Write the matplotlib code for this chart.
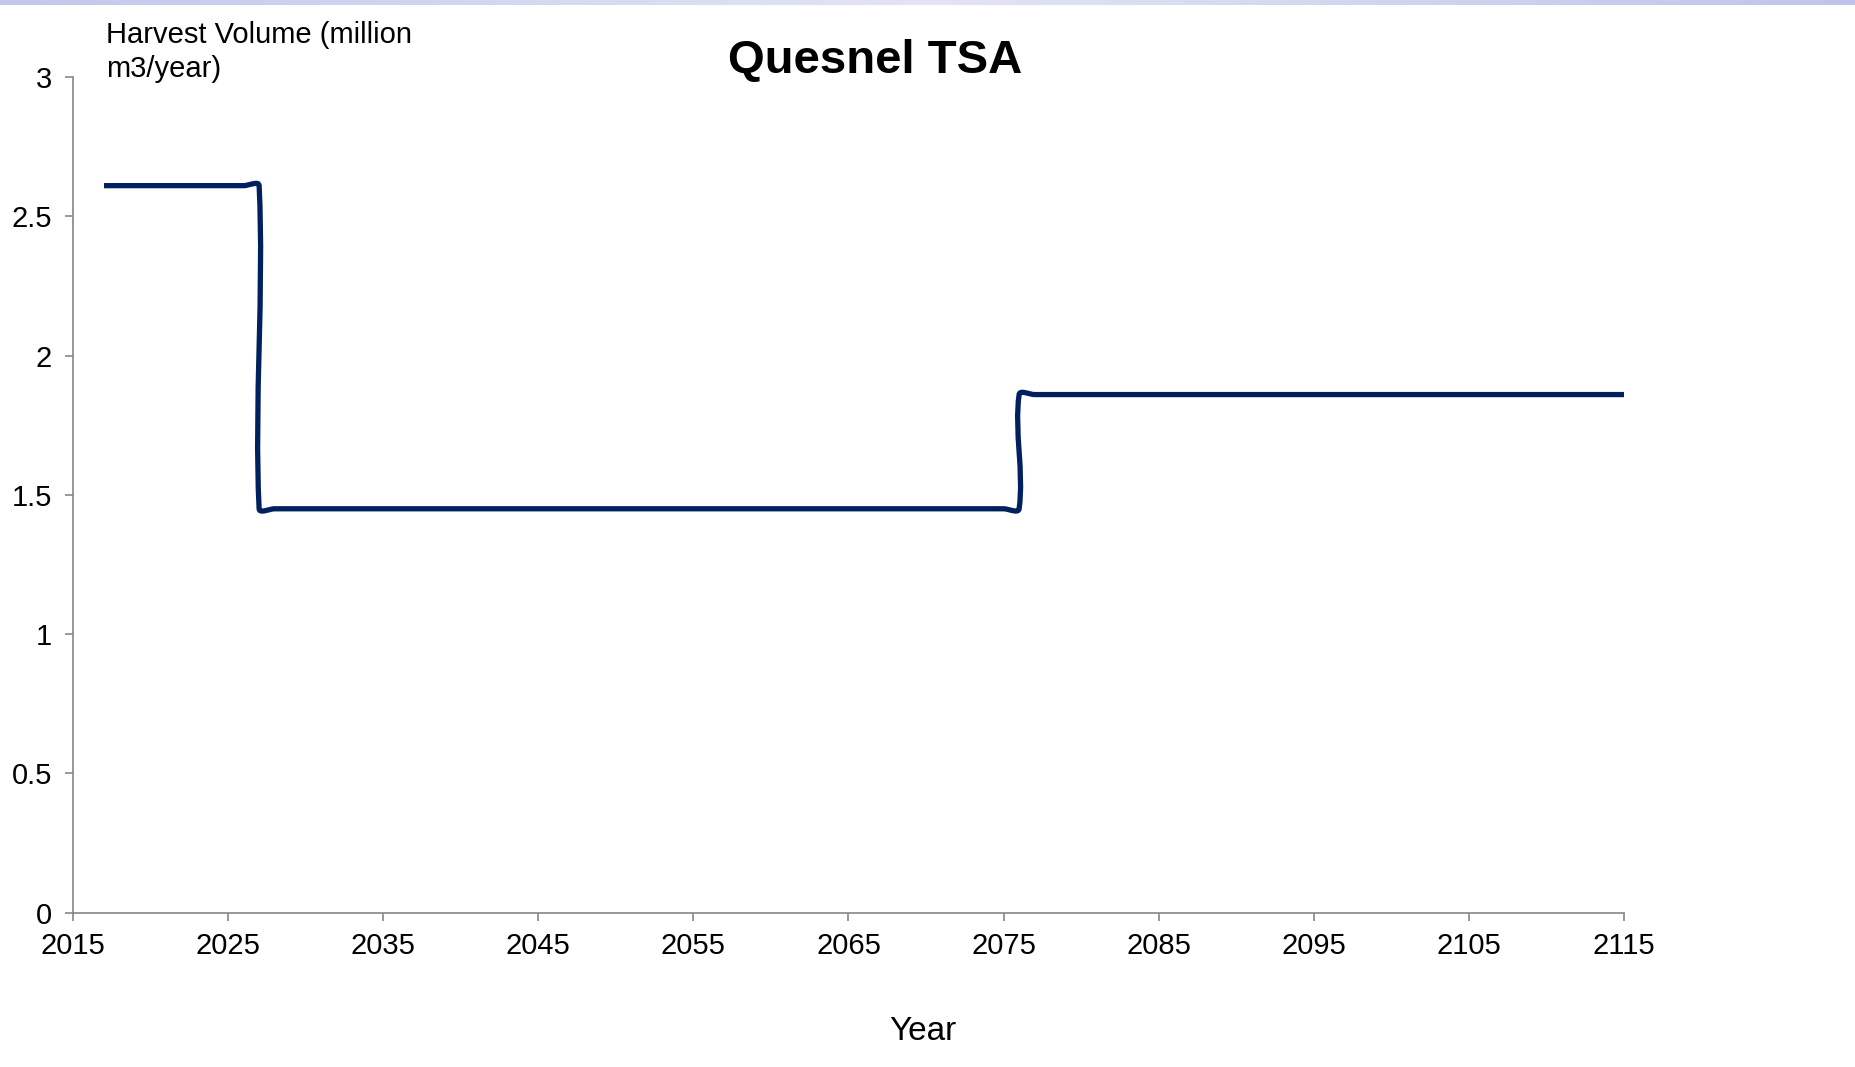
import numpy as np
import matplotlib
matplotlib.use("Agg")
from matplotlib import pyplot as plt
from matplotlib.path import Path
from matplotlib.patches import PathPatch
from matplotlib.colors import LinearSegmentedColormap

plt.rcParams['font.family'] = ['Liberation Sans', 'DejaVu Sans']

# harvest forecast, one level per period (million m3/year)
period_start = [2017, 2027, 2076]
period_end = [2027, 2076, 2115]
harvest = [2.61, 1.45, 1.86]

y_ticks = [0, 0.5, 1, 1.5, 2, 2.5, 3]
y_ticklabels = ["0", "0.5", "1", "1.5", "2", "2.5", "3"]
x_ticks = list(range(2015, 2116, 10))

years = np.concatenate([np.arange(s, e + 1) for s, e in zip(period_start, period_end)])
volume = np.concatenate([np.full(e - s + 1, v) for s, e, v in zip(period_start, period_end, harvest)])

fig = plt.figure(figsize=(18.55, 10.67), dpi=100)
ax = fig.add_axes([73 / 1855, 1 - 912.7 / 1067, 1551 / 1855, 835.7 / 1067])
ax.set_xlim(2015, 2115)
ax.set_ylim(0, 3)

# excel style smoothed line: bezier through the points, done in pixel space
pts = ax.transData.transform(np.column_stack([years, volume]))
n = len(pts)
verts = [pts[0]]
codes = [Path.MOVETO]
def tangent(i):
    a = pts[max(i - 1, 0)]
    b = pts[min(i + 1, n - 1)]
    d = b - a
    l = np.hypot(*d)
    return d / l if l > 0 else d
for i in range(n - 1):
    p0, p1 = pts[i], pts[i + 1]
    seg = np.hypot(*(p1 - p0)) / 3
    c1 = p0 + tangent(i) * seg
    c2 = p1 - tangent(i + 1) * seg
    verts += [c1, c2, p1]
    codes += [Path.CURVE4] * 3
verts = ax.transData.inverted().transform(np.array(verts))
ax.add_patch(PathPatch(Path(verts, codes), fill=False, edgecolor='#002060',
                       linewidth=3.8, capstyle='butt', joinstyle='round'))

for s in ['top', 'right']:
    ax.spines[s].set_visible(False)
for s in ['left', 'bottom']:
    ax.spines[s].set_color('#868686')
    ax.spines[s].set_linewidth(1.2)
ax.set_xticks(x_ticks)
ax.set_yticks(y_ticks)
ax.set_yticklabels(y_ticklabels)
ax.tick_params(axis='both', colors='#868686', labelcolor='black', labelsize=21,
               length=6, width=1.2, direction='out')
ax.tick_params(axis='y', pad=9)
ax.tick_params(axis='x', pad=8)

fig.text(875 / 1855, 1 - 61 / 1067, "Quesnel TSA", ha='center', va='center',
         fontsize=34, fontweight='bold')
fig.text(106 / 1855, 1 - 21 / 1067, "Harvest Volume (million\nm3/year)", ha='left', va='top',
         fontsize=21, linespacing=1.26)
fig.text(923 / 1855, 1 - 1031 / 1067, "Year", ha='center', va='center', fontsize=24)

# thin gradient band along the top edge
band = fig.add_axes([0, 1 - 5 / 1067, 1, 5 / 1067])
cmap = LinearSegmentedColormap.from_list("band", ['#c3c7ec', '#e3e5f5', '#c0c4ea'])
band.imshow(np.linspace(0, 1, 256)[None, :], aspect='auto', cmap=cmap)
band.axis('off')

fig.savefig("out.png", dpi=100)
